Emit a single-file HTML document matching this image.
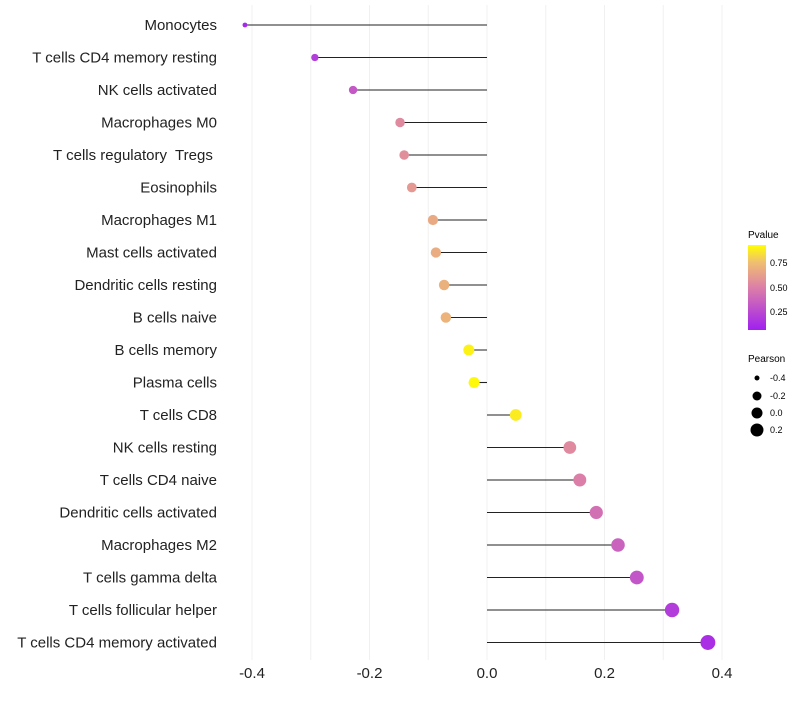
<!DOCTYPE html>
<html><head><meta charset="utf-8"><style>
body{margin:0;background:#fff;}
text{font-family:"Liberation Sans",sans-serif;white-space:pre;}
</style></head><body>
<svg width="800" height="700" xmlns="http://www.w3.org/2000/svg">
<defs>
<linearGradient id="pg" x1="0" y1="1" x2="0" y2="0">
<stop offset="0" stop-color="#a020f0"/>
<stop offset="0.5" stop-color="#dc7fa8"/>
<stop offset="0.8" stop-color="#f0c070"/>
<stop offset="1" stop-color="#ffff00"/>
</linearGradient>
</defs>
<g id="grid"></g>
<g id="marks"></g>
<g id="labels"></g>
<g id="legend">
<text x="748" y="238" font-size="10">Pvalue</text>
<rect x="748" y="245" width="18" height="85" fill="url(#pg)"/>
<text x="770" y="266" font-size="9">0.75</text>
<text x="770" y="291" font-size="9">0.50</text>
<text x="770" y="315" font-size="9">0.25</text>
<text x="748" y="362" font-size="10">Pearson</text>
<circle cx="757" cy="378" r="2.5"/>
<text x="770" y="381" font-size="9">-0.4</text>
<circle cx="757" cy="396" r="4.5"/>
<text x="770" y="399" font-size="9">-0.2</text>
<circle cx="757" cy="413" r="5.5"/>
<text x="770" y="416" font-size="9">0.0</text>
<circle cx="757" cy="430" r="6.5"/>
<text x="770" y="433" font-size="9">0.2</text>
</g>
</svg>
<script>
const categories=["Monocytes","T cells CD4 memory resting","NK cells activated","Macrophages M0","T cells regulatory  Tregs ","Eosinophils","Macrophages M1","Mast cells activated","Dendritic cells resting","B cells naive","B cells memory","Plasma cells","T cells CD8","NK cells resting","T cells CD4 naive","Dendritic cells activated","Macrophages M2","T cells gamma delta","T cells follicular helper","T cells CD4 memory activated"];
const pearson=[-0.412,-0.293,-0.228,-0.148,-0.141,-0.128,-0.092,-0.087,-0.073,-0.070,-0.031,-0.022,0.049,0.141,0.158,0.186,0.223,0.255,0.315,0.376];
const pvalues=[0.05,0.15,0.3,0.55,0.57,0.62,0.7,0.71,0.73,0.74,0.96,0.98,0.94,0.55,0.5,0.42,0.35,0.28,0.15,0.08];
const xticks=[-0.4,-0.2,0.0,0.2,0.4];
const NS="http://www.w3.org/2000/svg";
function xs(v){return 487+v*587.5;}
function ys(i){return 25+i*32.5;}
function rs(v){return Math.sqrt(Math.max(4,6+(v+0.41)*63));}
function lerp(a,b,t){return a.map((x,k)=>Math.round(x+(b[k]-x)*t));}
function col(p){const s=[[0,[160,32,240]],[0.5,[220,127,168]],[0.8,[240,192,112]],[1,[255,255,0]]];
 for(let k=1;k<s.length;k++){if(p<=s[k][0]){const t=(p-s[k-1][0])/(s[k][0]-s[k-1][0]);const c=lerp(s[k-1][1],s[k][1],t);return `rgb(${c})`;}}return "rgb(255,255,0)";}
function mk(tag,at,parent){const e=document.createElementNS(NS,tag);for(const k in at)e.setAttribute(k,at[k]);document.getElementById(parent).appendChild(e);return e;}
for(let t=-0.4;t<=0.41;t+=0.1){const g=mk("line",{x1:xs(t),x2:xs(t),y1:5,y2:660,stroke:"#f0f0f0","stroke-width":1},"grid");

}
xticks.forEach(t=>{const e=mk("text",{x:xs(t),y:678,"font-size":15,"text-anchor":"middle",fill:"#222"},"labels");e.textContent=t.toFixed(1);

});
categories.forEach((c,i)=>{const y=ys(i);
const l=mk("line",{x1:xs(0),x2:xs(pearson[i]),y1:y,y2:y,stroke:"#222","stroke-width":1.1},"marks");


const d=mk("circle",{cx:xs(pearson[i]),cy:y,r:rs(pearson[i]),fill:col(pvalues[i])},"marks");


const t=mk("text",{x:217,y:y+5,"font-size":15,"text-anchor":"end",fill:"#222"},"labels");t.textContent=c;

});
</script>
</body></html>
